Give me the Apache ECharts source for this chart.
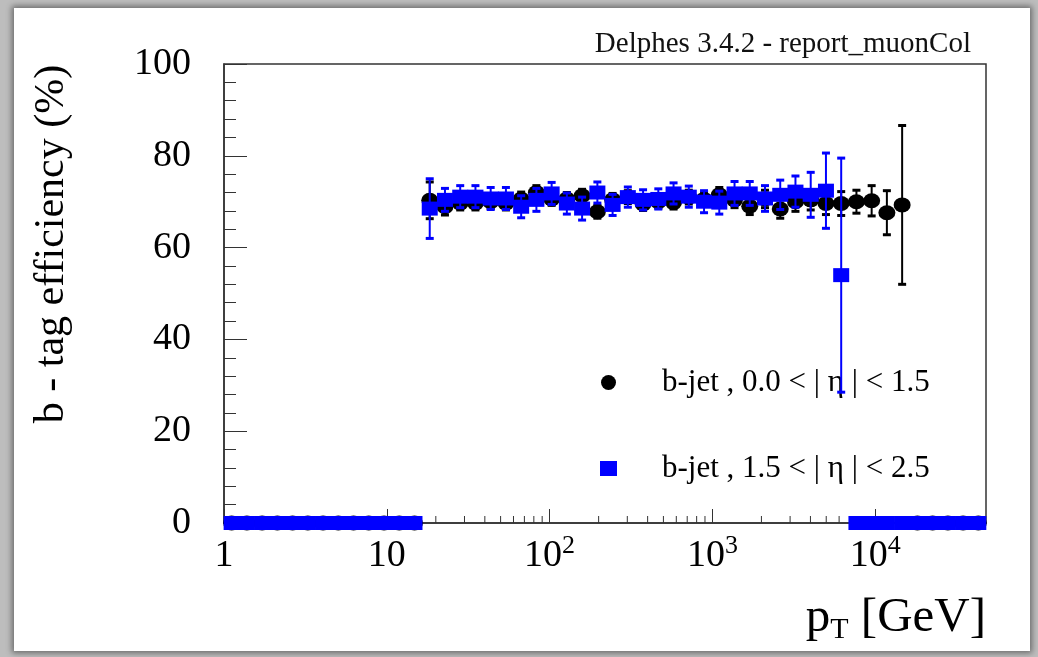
<!DOCTYPE html>
<html>
<head>
<meta charset="utf-8">
<script src="https://cdn.jsdelivr.net/npm/echarts@6/dist/echarts.min.js"></script>
<style>
  html, body { margin: 0; padding: 0; background: #bdbdbd; overflow: hidden; }
  #panel { position: absolute; left: 14px; top: 8px; width: 1016px; height: 643px; background: #fff;
           box-shadow: 0 0 6px 2px rgba(0, 0, 0, 0.45); }
  #chart { position: absolute; left: 0; top: 0; width: 1038px; height: 657px; }
</style>
</head>
<body>
<div id="panel"></div>
<div id="chart"></div>
<script>
// bin centres of the pT histogram (GeV)
const pt = [1.114, 1.382, 1.714, 2.126, 2.637, 3.272, 4.058, 5.035, 6.246, 7.748,
            9.612, 11.92, 14.79, 18.35, 22.76, 28.24, 35.03, 43.45, 53.90, 66.87,
            82.95, 102.9, 127.6, 158.3, 196.5, 243.7, 302.3, 375.0, 465.2, 577.1,
            715.9, 888.1, 1102, 1367, 1695, 2103, 2609, 3236, 4015, 4981,
            6179, 7665, 9506, 11790, 14630, 18150, 22510, 27930, 34640, 42970];

// b-jet, 0.0 < |eta| < 1.5
const effEta1 = [0, 0, 0, 0, 0, 0, 0, 0, 0, 0, 0, 0, 0,
                 70.3, 68.9, 69.7, 69.7, 70.0, 69.7, 70.6, 72.0, 70.6, 70.6,
                 71.3, 67.8, 70.4, 71.0, 69.5, 70.0, 69.8, 71.0, 70.5, 71.5,
                 70.4, 69.0, 70.6, 68.4, 70.0, 70.4, 69.6, 69.6, 70.0, 70.2,
                 67.6, 69.3,
                 0, 0, 0, 0, 0];
const errEta1 = [0, 0, 0, 0, 0, 0, 0, 0, 0, 0, 0, 0, 0,
                 4.0, 1.8, 1.5, 1.5, 1.5, 1.5, 1.5, 1.5, 1.4, 1.4,
                 1.4, 1.4, 1.4, 1.4, 1.4, 1.4, 1.4, 1.5, 1.5, 1.6,
                 1.7, 1.8, 1.9, 2.0, 2.1, 2.2, 2.4, 2.6, 2.5, 3.3,
                 4.8, 17.3,
                 0, 0, 0, 0, 0];

// b-jet, 1.5 < |eta| < 2.5
const effEta2 = [0, 0, 0, 0, 0, 0, 0, 0, 0, 0, 0, 0, 0,
                 68.5, 70.4, 71.1, 71.1, 70.7, 70.7, 68.9, 70.4, 71.8, 69.6,
                 68.5, 72.0, 69.3, 71.0, 70.4, 70.6, 71.8, 71.1, 70.0, 69.8,
                 71.8, 71.8, 70.7, 71.5, 72.2, 71.5, 72.4, 54.0,
                 0, 0, 0, 0, 0, 0, 0, 0, 0];
const errEta2 = [0, 0, 0, 0, 0, 0, 0, 0, 0, 0, 0, 0, 0,
                 6.5, 2.5, 2.4, 2.4, 2.4, 2.4, 2.4, 2.5, 2.4, 2.3,
                 2.5, 2.3, 2.3, 2.2, 2.2, 2.2, 2.3, 2.3, 2.4, 2.5,
                 2.6, 2.6, 2.8, 3.2, 3.4, 4.9, 8.2, 25.5,
                 0, 0, 0, 0, 0, 0, 0, 0, 0];

const xMinorTicks = [2, 3, 4, 5, 6, 7, 8, 9, 20, 30, 40, 50, 60, 70, 80, 90,
                     200, 300, 400, 500, 600, 700, 800, 900,
                     2000, 3000, 4000, 5000, 6000, 7000, 8000, 9000, 20000, 30000, 40000];

const nameEta1 = 'b-jet , 0.0 < | η | < 1.5';
const nameEta2 = 'b-jet , 1.5 < | η | < 2.5';
const serif = 'Liberation Serif, Times New Roman, serif';
const axisColor = '#333';

function points(eff) {
  return pt.map((x, i) => [x, eff[i]]);
}
function ranges(eff, err) {
  return pt.map((x, i) => [x, eff[i] - err[i], eff[i] + err[i]]);
}
function errorBars(color) {
  return function (params, api) {
    const lo = api.value(1), hi = api.value(2);
    if (hi - lo <= 0) return null;
    const top = api.coord([api.value(0), hi]);
    const bot = api.coord([api.value(0), lo]);
    const cap = 4;
    return {
      type: 'group',
      children: [
        { type: 'line', shape: { x1: top[0], y1: top[1], x2: bot[0], y2: bot[1] }, style: { stroke: color, lineWidth: 2 } },
        { type: 'line', shape: { x1: top[0] - cap, y1: top[1], x2: top[0] + cap, y2: top[1] }, style: { stroke: color, lineWidth: 3 } },
        { type: 'line', shape: { x1: bot[0] - cap, y1: bot[1], x2: bot[0] + cap, y2: bot[1] }, style: { stroke: color, lineWidth: 3 } }
      ]
    };
  };
}

const chart = echarts.init(document.getElementById('chart'));
chart.setOption({
  animation: false,
  title: {
    text: 'Delphes 3.4.2 - report_muonCol',
    right: 62, top: 25,
    textStyle: { fontFamily: serif, fontSize: 29, fontWeight: 'normal', color: '#111' }
  },
  legend: {
    orient: 'vertical', left: 595, top: 362, itemGap: 55,
    itemWidth: 17, itemHeight: 15, selectedMode: false,
    textStyle: { fontFamily: serif, fontSize: 31, color: '#000', lineHeight: 30, padding: [0, 0, 0, 40] },
    data: [{ name: nameEta1, icon: 'circle' }, { name: nameEta2, icon: 'rect' }]
  },
  grid: { left: 224, right: 52, top: 64, bottom: 134, show: true, borderColor: axisColor, borderWidth: 1.5 },
  xAxis: {
    type: 'log', logBase: 10, min: 1, max: 47900,
    axisLine: { lineStyle: { color: axisColor, width: 1.5 } },
    axisTick: { inside: true, length: 14, lineStyle: { color: axisColor } },
    splitLine: { show: false },
    axisLabel: {
      margin: 11, color: '#000', fontFamily: serif, fontSize: 38, lineHeight: 44,
      showMaxLabel: false,
      formatter: function (v) {
        const l = Math.log10(v), e = Math.round(l);
        if (Math.abs(l - e) > 1e-6) return '';
        if (e === 0) return '1';
        if (e === 1) return '10';
        return '{b|10}{s|' + e + '}';
      },
      rich: {
        b: { fontFamily: serif, fontSize: 38, lineHeight: 44, color: '#000' },
        s: { fontFamily: serif, fontSize: 26, padding: [0, 0, 20, 0], color: '#000' }
      }
    }
  },
  yAxis: {
    type: 'value', min: 0, max: 100, interval: 20,
    axisLine: { show: true, lineStyle: { color: axisColor, width: 1.5 } },
    axisTick: { show: true, inside: true, length: 23, lineStyle: { color: axisColor } },
    minorTick: { show: true, splitNumber: 5, length: 12, lineStyle: { color: axisColor } },
    splitLine: { show: false },
    axisLabel: { margin: 33, color: '#000', fontFamily: serif, fontSize: 38 }
  },
  graphic: [
    {
      type: 'text', x: 52, y: 244, rotation: Math.PI / 2, silent: true,
      style: {
        text: 'b - tag efficiency (%)', fill: '#000',
        font: '42px ' + serif, align: 'center', verticalAlign: 'middle',
        textAlign: 'center', textVerticalAlign: 'middle'
      }
    },
    {
      type: 'text', x: 986, y: 618, silent: true,
      style: {
        text: '{a|p}{t|T}{a| [GeV]}', fill: '#000',
        align: 'right', verticalAlign: 'middle', textAlign: 'right', textVerticalAlign: 'middle',
        rich: {
          a: { fontFamily: serif, fontSize: 49, fill: '#000' },
          t: { fontFamily: serif, fontSize: 30, fill: '#000', padding: [24, 0, 0, 0] }
        }
      }
    }
  ],
  series: [
    {
      name: 'minor ticks', type: 'custom', silent: true, clip: false, z: 1,
      data: xMinorTicks.map(v => [v, 0]),
      renderItem: function (params, api) {
        const p = api.coord([api.value(0), 0]);
        return { type: 'line', shape: { x1: p[0], y1: p[1], x2: p[0], y2: p[1] - 7 }, style: { stroke: axisColor, lineWidth: 1 } };
      }
    },
    {
      name: 'err1', type: 'custom', silent: true, clip: false, z: 2,
      encode: { x: 0, y: [1, 2] },
      data: ranges(effEta1, errEta1),
      renderItem: errorBars('#000')
    },
    {
      name: nameEta1, type: 'scatter', symbol: 'circle', symbolSize: [17, 15], clip: false, z: 3,
      itemStyle: { color: '#000', opacity: 1 },
      data: points(effEta1)
    },
    {
      name: 'err2', type: 'custom', silent: true, clip: false, z: 4,
      encode: { x: 0, y: [1, 2] },
      data: ranges(effEta2, errEta2),
      renderItem: errorBars('#0000ff')
    },
    {
      name: nameEta2, type: 'scatter', symbol: 'rect', symbolSize: [16, 14], clip: false, z: 5,
      itemStyle: { color: '#0000ff', opacity: 1 },
      data: points(effEta2)
    }
  ]
});
</script>
</body>
</html>
